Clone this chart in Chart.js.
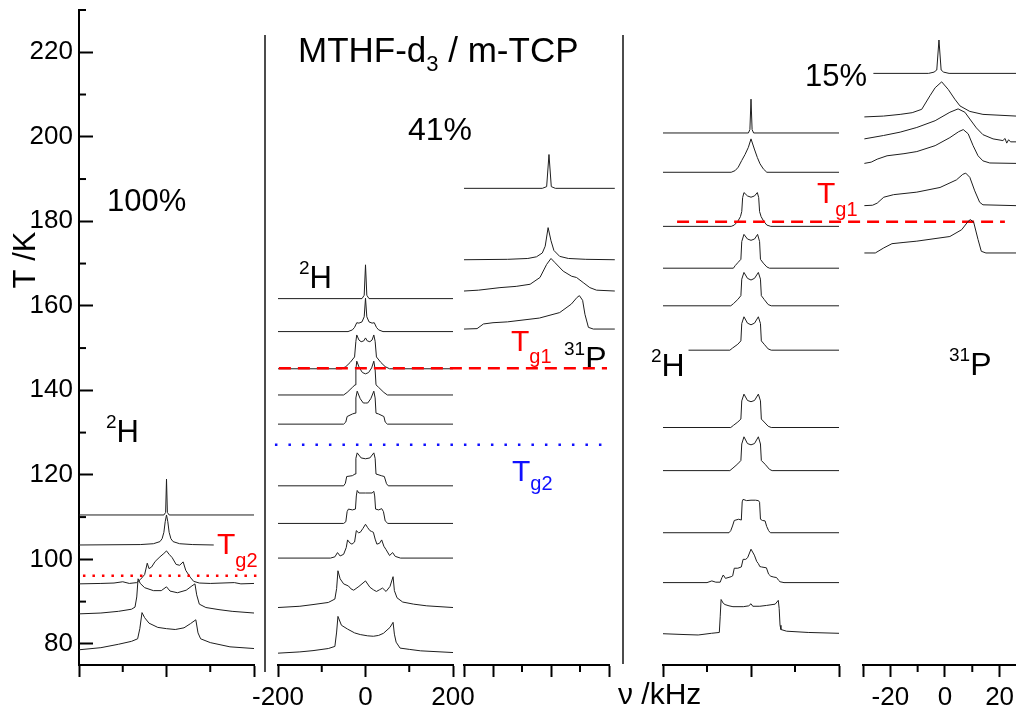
<!DOCTYPE html>
<html>
<head>
<meta charset="utf-8">
<script src="https://cdn.jsdelivr.net/npm/chart.js@4.4.1/dist/chart.umd.min.js"></script>
<style>
  html, body { margin: 0; padding: 0; background: #fff; }
  #wrap { position: relative; width: 1016px; height: 716px; overflow: hidden; }
  canvas { position: absolute; left: 0; top: 0; }
</style>
</head>
<body>
<div id="wrap">
  <canvas id="p1" width="1016" height="716"></canvas>
  <canvas id="p2" width="1016" height="716"></canvas>
  <canvas id="p3" width="1016" height="716"></canvas>
  <canvas id="p4" width="1016" height="716"></canvas>
  <canvas id="p5" width="1016" height="716"></canvas>
</div>
<script>
// temperature axis
const Y_MIN = 75, Y_MAX = 230;
const Y_TICKS = [80, 100, 120, 140, 160, 180, 200, 220];
const Y_MINOR = [90, 110, 130, 150, 170, 190, 210, 230];

// glass transitions (K)
const TG2_100 = 96.1;
const TG1_41 = 145.2;
const TG2_41 = 127.1;
const TG1_15 = 179.9;

// spectra: [frequency kHz, height above baseline in K]
// 100 % MTHF-d3, 2H
const P1_BASE = [110.5, 103.4, 94.2, 87.1, 78.6];
const P1_A = [[-200,0],[-6,0],[-2,0.6],[0,8.5],[2,0.6],[6,0],[200,0]];
const P1_B = [[-200,0],[-60,0.1],[-30,0.3],[-15,0.8],[-10,1.5],[-6,3.0],[-3,5.5],[0,7.1],[3,5.5],[6,3.0],[10,1.5],[15,0.8],[30,0.3],[60,0.1],[108,0]];
const P1_C = [[-200,0],[-150,0.1],[-120,0.2],[-100,0.5],[-85,0.1],[-68,0.3],[-60,1.0],[-50,2.2],[-44,4.9],[-40,3.6],[-34,4.0],[-26,5.3],[-15,6.4],[-6,7.2],[0,7.8],[6,7.0],[13,6.2],[22,4.6],[30,4.4],[38,5.2],[44,3.2],[54,1.6],[62,0.6],[75,0.2],[100,0.1],[155,0.3],[170,0],[200,0.1]];
const P1_D = [[-200,0],[-150,0.2],[-110,0.6],[-80,1.1],[-72,1.6],[-68,4],[-65,8.3],[-60,7.2],[-50,6.2],[-30,5.5],[-12,5.5],[0,6.4],[8,5.4],[25,5.0],[45,5.6],[58,6.6],[65,7.1],[69,4.5],[75,2.3],[90,1.5],[120,1.0],[150,0.6],[200,0.2]];
const P1_E = [[-200,0],[-150,0.5],[-110,1.3],[-80,2.0],[-66,2.6],[-61,5],[-56,8.8],[-50,7.6],[-40,6.3],[-20,5.3],[0,5.0],[20,4.8],[40,5.2],[55,6.2],[67,7.1],[72,4.0],[78,2.6],[100,1.7],[145,0.7],[200,0.3]];

// 41 %, 2H
const P2_BASE = [161.7, 153.9, 145.1, 138.9, 132.0, 117.4, 108.5, 100.3, 88.6, 77.8];
const P2_A = [[-200,0],[-8,0],[-3,0.8],[0,8.0],[3,0.8],[8,0],[200,0]];
const P2_B = [[-200,0],[-40,0],[-30,0.4],[-25,1.0],[-20,2.1],[-15,2.0],[-8,2.3],[-3,3.5],[0,7.9],[3,3.5],[8,2.3],[15,2.0],[20,2.1],[25,1.0],[30,0.4],[40,0],[200,0]];
const P2_C = [[-200,0],[-55,0],[-45,0.5],[-35,1.5],[-25,2.8],[-22,6.5],[-20,8.0],[-15,6.8],[-10,6.4],[-4,6.6],[0,7.3],[4,6.6],[10,6.4],[15,6.8],[19,8.0],[22,6.5],[25,2.8],[35,1.5],[45,0.5],[55,0],[200,0]];
const P2_D = [[-200,0],[-50,0],[-42,0.6],[-30,1.8],[-24,2.4],[-22,6],[-20,8.0],[-14,6.4],[-7,5.3],[0,5.0],[7,5.3],[14,6.4],[19,8.0],[22,6],[24,2.4],[30,1.8],[42,0.6],[50,0],[200,0]];
const P2_E = [[-200,0],[-50,0],[-45,0.5],[-42,1.8],[-30,2.4],[-24,2.6],[-22,6.2],[-19,7.8],[-12,6.0],[-5,5.0],[0,5.0],[5,5.0],[12,6.0],[19,7.8],[22,6.2],[24,2.6],[30,2.4],[42,1.8],[45,0.5],[50,0],[200,0]];
const P2_F = [[-200,0],[-50,0],[-46,0.6],[-43,2.2],[-30,2.4],[-24,2.8],[-22,6.5],[-19,7.8],[-10,6.6],[0,6.4],[10,6.6],[19,7.8],[22,6.5],[24,2.8],[36,2.4],[43,2.2],[48,0.5],[52,0],[200,0]];
const P2_G = [[-200,0],[-50,0],[-45,0.4],[-42,2.8],[-39,3.4],[-30,3.2],[-23,3.4],[-21,6.5],[-19,7.8],[-15,7.2],[0,7.2],[15,7.2],[19,7.6],[21,6.5],[23,3.4],[30,3.2],[37,3.5],[41,2.8],[45,0.6],[51,0],[200,0]];
const P2_H = [[-200,0],[-80,0],[-70,0.3],[-64,1.3],[-58,0.5],[-50,0.9],[-44,2.5],[-41,4.3],[-36,3.6],[-31,3.3],[-25,3.8],[-21,6.5],[-16,6.0],[-12,6.1],[-6,7.0],[0,8.0],[5,7.2],[10,6.5],[14,6.3],[18,6.1],[22,4.5],[26,3.3],[32,3.5],[37,4.3],[42,2.8],[47,2.0],[55,0.6],[62,1.3],[68,0.4],[80,0],[200,0]];
const P2_I = [[-200,0],[-150,0.3],[-120,0.7],[-85,1.2],[-70,2.0],[-66,4.5],[-63,8.7],[-58,6.8],[-50,5.6],[-39,5.1],[-33,4.4],[-27,4.1],[-15,5.0],[0,6.3],[10,4.8],[18,4.2],[25,3.8],[32,4.2],[39,4.6],[47,3.8],[56,5.0],[63,7.3],[66,4.0],[72,2.3],[85,1.3],[110,0.8],[140,0.4],[200,0]];
const P2_J = [[-200,0],[-150,0.3],[-120,0.6],[-85,1.1],[-70,1.6],[-66,5],[-63,8.7],[-55,6.6],[-41,5.7],[-25,4.8],[-12,4.4],[5,4.1],[18,4.0],[30,4.2],[41,4.7],[56,6.1],[63,7.3],[66,4.5],[70,2.6],[79,1.2],[100,0.9],[126,0.55],[200,0.15]];

// 41 %, 31P
const P3_BASE = [187.8, 170.9, 163.5, 154.5];
const P3_A = [[-30,0],[-3,0],[-1.5,0.4],[-0.7,8.0],[0.1,0.4],[1.5,0],[22,0]];
const P3_B = [[-30,0],[-15,0.1],[-8,0.3],[-5,0.7],[-3,1.6],[-2,3.2],[-1,7.6],[0,4.5],[1,2.2],[3,0.8],[6,0.3],[12,0.1],[22,0]];
const P3_C = [[-30,0],[-25,0.2],[-17.6,0.8],[-12,1.1],[-7.2,1.6],[-3.8,3.2],[-1.5,6.3],[0,7.7],[1.4,6.7],[4.2,4.7],[7.1,3.5],[8.8,3.2],[11.1,2.0],[13.4,0.8],[15.7,0.2],[22,0]];
const P3_D = [[-30,0],[-25.5,0.1],[-23.3,1.2],[-20,1.5],[-15,1.7],[-4,2.6],[3,3.9],[7,5.9],[9,7.5],[9.8,7.9],[10.9,6.8],[11.7,3.5],[12.9,0.4],[14.6,0],[22,0]];

// 15 %, 2H
const P4_BASE = [200.9, 191.6, 178.8, 168.9, 160.0, 149.5, 131.2, 121.0, 106.3, 94.5, 82.4];
const P4_A = [[-200,0],[-6,0],[-2.5,0.8],[0,8.0],[2.5,0.8],[6,0],[200,0]];
const P4_B = [[-200,0],[-45,0],[-36,0.4],[-29,1.2],[-21,2.8],[-13.6,4.2],[-6,5.9],[0,7.9],[7.6,5.5],[14.4,3.5],[20.5,2.0],[28,0.8],[36,0],[200,0]];
const P4_C = [[-200,0],[-45,0],[-38,0.3],[-30,1.2],[-24,2.3],[-21,3.5],[-19,6.8],[-16,8.0],[-8,7.2],[0,6.9],[8,7.2],[14.4,8.0],[17.5,6.8],[19.5,3.5],[23,2.3],[29,1.2],[36,0.3],[45,0],[200,0]];
const P4_D = [[-200,0],[-40,0],[-36,0.6],[-30,1.3],[-23,2.1],[-21,6.3],[-16,8.0],[-8,6.9],[0,6.6],[8,6.9],[15,8.0],[19.5,6.3],[21.5,2.1],[28,1.2],[36,0.3],[42,0],[200,0]];
const P4_E = [[-200,0],[-46,0],[-40,0.5],[-30,1.5],[-23,2.4],[-21,6.3],[-16,7.9],[-8,6.5],[0,6.1],[8,6.5],[16.7,7.9],[21.5,6.3],[23.5,2.4],[30,1.5],[39,0.3],[46,0],[200,0]];
const P4_F = [[-142,0],[-48,0],[-42,0.5],[-30,1.4],[-23,2.2],[-21,6.3],[-16,7.9],[-8,6.4],[0,6.0],[8,6.4],[16.7,7.9],[21.5,6.3],[23.5,2.2],[30,1.4],[39,0.3],[46,0],[200,0]];
const P4_G = [[-200,0],[-46,0],[-40,0.5],[-30,1.3],[-23,2.0],[-21,6.3],[-16,7.9],[-8,6.4],[0,6.1],[8,6.4],[16.7,7.9],[21.5,6.3],[23.5,2.0],[30,1.3],[39,0.3],[46,0],[200,0]];
const P4_H = [[-200,0],[-48,0],[-41,0.6],[-30,1.6],[-23,2.4],[-21,6.3],[-16,8.0],[-8,6.4],[0,6.1],[8,6.4],[16.7,8.0],[21.5,6.3],[23.5,2.4],[32,1.5],[42,0.3],[48,0],[200,0]];
const P4_I = [[-200,0],[-50,0],[-46,0.5],[-42,1.6],[-38,2.9],[-28,3.2],[-22,3.0],[-20,7.3],[-18,7.9],[-10,7.6],[0,7.7],[10,7.7],[17,7.6],[19.5,7.2],[21.5,3.2],[26,2.9],[32,2.8],[35.6,1.5],[40,0.5],[44,0],[200,0]];
const P4_J = [[-200,0],[-100,0],[-89,0.4],[-80,0.1],[-70,0.1],[-66,1.2],[-63,1.8],[-58,1.0],[-45,1.4],[-41.6,1.6],[-38,3.4],[-30,3.4],[-22,3.7],[-18,5.5],[-12,5.5],[-7.6,5.9],[0,7.9],[7.6,6.5],[13,5.0],[16.7,4.5],[20,3.8],[24,3.7],[35,3.5],[40,2.0],[45,1.5],[52,1.3],[58,1.2],[63,0.5],[66,0.2],[75,0],[200,0]];
const P4_K = [[-200,0],[-150,-0.2],[-120,-0.3],[-90,0.1],[-72,0.3],[-70,4],[-68,8.1],[-63,7.2],[-59,6.9],[-50,6.6],[-41,6.4],[-17.5,6.4],[-5,6.6],[0,7.1],[4,6.5],[20,6.5],[35.6,6.7],[55,7.0],[62,7.9],[64,6],[66,2],[68,1.0],[81,0.6],[130,0.3],[200,0.1]];

// 15 %, 31P
const P5_BASE = [215.0, 204.7, 198.7, 193.7, 183.7, 172.5];
const P5_A = [[-26.2,0],[-6,0],[-4,0.3],[-3,0.8],[-2.2,7.9],[-1.4,0.8],[-0.5,0.3],[1.5,0],[26,0]];
const P5_B = [[-29.5,0],[-22.5,0.2],[-16.4,0.6],[-12,1.0],[-8.5,1.8],[-5.5,5.0],[-3.6,6.9],[-1.2,8.3],[1.2,6.5],[3.6,4.2],[5.5,2.6],[9.1,1.3],[13.9,0.6],[26,0.2]];
const P5_C = [[-29.5,0.8],[-22.5,1.6],[-16.4,2.4],[-10.3,3.5],[-3.6,5.1],[1.8,7.1],[4.8,7.9],[7.3,7.1],[9.1,5.5],[11.5,3.4],[13.9,1.8],[17.6,0.8],[21.2,0.4],[22,0.9],[22.6,-0.2],[23.3,0.6],[24,0.1],[26,0.1]];
const P5_D = [[-29.5,0],[-27,0.3],[-24.8,1.0],[-21.2,1.8],[-15,2.3],[-10.3,2.8],[-3.6,4.2],[1.8,6.1],[5,7.5],[6.7,8.0],[8.5,7.0],[10.3,4.2],[12.1,1.8],[13.9,0.6],[16.4,0.1],[26,0]];
const P5_E = [[-29.5,0],[-26.5,0.1],[-24.8,0.6],[-22.4,2.0],[-18.8,2.6],[-10.3,3.2],[-1.8,4.3],[4.2,6.1],[6.5,7.4],[7.6,7.7],[9.1,6.7],[10.9,3.5],[12.7,0.8],[13.9,0.2],[26,0]];
const P5_F = [[-29.5,0],[-25.5,0],[-22.4,1.2],[-19.4,2.2],[-15,2.5],[-10.3,2.8],[1.8,3.9],[6.1,5.5],[8.5,7.5],[9.3,7.9],[10.5,7.3],[12.1,3.2],[13.3,0.4],[15,0],[26,0]];

// frequency axes
const WIDE_MAJOR = [-200, 0, 200];
const WIDE_MINOR = [-100, 100];
const NARROW_MAJOR = [-30, -20, 0, 20];
const NARROW_MINOR = [-10, 10];

Chart.defaults.font.family = '"Liberation Sans", Arial, sans-serif';
Chart.defaults.color = '#000';

const INK = '#1e1e1e';
const RED = '#ff0000';
const BLUE = '#1010ff';

function spectra(bases, shapes) {
  return shapes.map((sh, i) => ({
    data: sh.map(([f, h]) => ({ x: f, y: bases[i] + h })),
    borderColor: INK, borderWidth: 1, clip: false
  }));
}

function tgLine(T, from, to, color, dash) {
  return {
    data: [{ x: from, y: T }, { x: to, y: T }],
    borderColor: color, borderWidth: 2.5, borderDash: dash, clip: false
  };
}

function minorTicks(xMinor, yMinor) {
  return {
    id: 'minorTicks',
    afterDraw(chart) {
      const ctx = chart.ctx, xs = chart.scales.x, ys = chart.scales.y;
      ctx.save();
      ctx.strokeStyle = '#000';
      ctx.lineWidth = 2;
      xMinor.forEach(v => {
        const px = xs.getPixelForValue(v);
        ctx.beginPath(); ctx.moveTo(px, xs.top); ctx.lineTo(px, xs.top + 7); ctx.stroke();
      });
      yMinor.forEach(v => {
        const py = ys.getPixelForValue(v);
        ctx.beginPath(); ctx.moveTo(ys.right, py); ctx.lineTo(ys.right + 7, py); ctx.stroke();
      });
      ctx.restore();
    }
  };
}

function panel(id, cfg) {
  const yScale = cfg.showY ? {
    min: Y_MIN, max: Y_MAX,
    afterFit: s => { s.width = 79; s.paddingTop = 0; s.paddingBottom = 0; },
    afterBuildTicks: s => { s.ticks = Y_TICKS.map(v => ({ value: v })); },
    border: { display: true, color: '#000', width: 2 },
    grid: { drawOnChartArea: false, drawTicks: true, tickLength: -14, tickWidth: 2, tickColor: '#000' },
    ticks: { font: { size: 26 }, padding: 20, color: '#000' }
  } : { display: false, min: Y_MIN, max: Y_MAX };

  return new Chart(document.getElementById(id), {
    type: 'line',
    data: { datasets: cfg.datasets },
    options: {
      responsive: false,
      animation: false,
      devicePixelRatio: 1,
      layout: { padding: cfg.padding },
      plugins: { legend: { display: false }, tooltip: { enabled: false } },
      elements: { point: { radius: 0 }, line: { tension: 0 } },
      scales: {
        x: {
          type: 'linear', min: cfg.xMin, max: cfg.xMax,
          afterFit: s => { s.height = 50; s.paddingLeft = 0; s.paddingRight = 0; },
          afterBuildTicks: s => { s.ticks = cfg.xMajor.map(v => ({ value: v })); },
          border: { display: true, color: '#000', width: 2 },
          grid: { drawOnChartArea: false, drawTicks: true, tickLength: 12, tickWidth: 2, tickColor: '#000' },
          ticks: {
            font: { size: 26 }, padding: 5, color: '#000', maxRotation: 0, autoSkip: false,
            callback: v => cfg.xLabels.includes(v) ? String(v) : ''
          }
        },
        y: yScale
      }
    },
    plugins: [minorTicks(cfg.xMinor, cfg.showY ? Y_MINOR : [])].concat(cfg.extra || [])
  });
}

// free text, superscripts and subscripts, panel dividers
const TEXTS = [
  { x: 107, y: 211, c: '#000', parts: [['100%', 31, 0]] },
  { x: 408, y: 140, c: '#000', parts: [['41%', 32, 0]] },
  { x: 805, y: 86, c: '#000', parts: [['15%', 31, 0]] },
  { x: 298, y: 62, c: '#000', parts: [['MTHF-d', 35, 0], ['3', 22, 9], [' / m-TCP', 35, 0]] },
  { x: 106, y: 442, c: '#000', parts: [['2', 19, -14], ['H', 31, 0]] },
  { x: 299, y: 288, c: '#000', parts: [['2', 19, -14], ['H', 31, 0]] },
  { x: 651, y: 376, c: '#000', parts: [['2', 19, -14], ['H', 32, 0]] },
  { x: 564, y: 369, c: '#000', parts: [['31', 19, -14], ['P', 32, 0]] },
  { x: 949, y: 375, c: '#000', parts: [['31', 19, -14], ['P', 32, 0]] },
  { x: 217, y: 554, c: RED, parts: [['T', 30, 0], ['g2', 20, 13]] },
  { x: 511, y: 351, c: RED, parts: [['T', 30, 0], ['g1', 20, 12]] },
  { x: 512, y: 481, c: BLUE, parts: [['T', 30, 0], ['g2', 20, 9]] },
  { x: 817, y: 203, c: RED, parts: [['T', 30, 0], ['g1', 20, 13]] },
  { x: 618, y: 704, c: '#000', parts: [['\u03bd /kHz', 30, 0]] }
];

const decor = {
  id: 'decor',
  afterDraw(chart) {
    const ctx = chart.ctx;
    ctx.save();
    ctx.textBaseline = 'alphabetic';
    ctx.textAlign = 'left';
    TEXTS.forEach(t => {
      let x = t.x;
      ctx.fillStyle = t.c;
      t.parts.forEach(([s, size, dy]) => {
        ctx.font = size + 'px "Liberation Sans", Arial, sans-serif';
        ctx.fillText(s, x, t.y + dy);
        x += ctx.measureText(s).width;
      });
    });
    // axis title
    ctx.fillStyle = '#000';
    ctx.font = '31px "Liberation Sans", Arial, sans-serif';
    ctx.translate(35, 260);
    ctx.rotate(-Math.PI / 2);
    ctx.textAlign = 'center';
    ctx.fillText('T /K', 0, 0);
    ctx.setTransform(1, 0, 0, 1, 0, 0);
    // panel dividers
    ctx.strokeStyle = '#111';
    ctx.lineWidth = 1.5;
    ctx.beginPath(); ctx.moveTo(265, 35); ctx.lineTo(265, 672); ctx.stroke();
    ctx.beginPath(); ctx.moveTo(623, 35); ctx.lineTo(623, 664); ctx.stroke();
    ctx.restore();
  }
};

const RED_DOTS = [2.5, 7];
const BLUE_DOTS = [2.5, 11];
const DASH = [12, 7];

panel('p1', {
  showY: true,
  padding: { left: 0, top: 10, right: 762, bottom: 1 },
  xMin: -200, xMax: 200, xMajor: WIDE_MAJOR, xMinor: WIDE_MINOR, xLabels: [],
  datasets: [tgLine(TG2_100, -191, 214, RED, RED_DOTS)]
    .concat(spectra(P1_BASE, [P1_A, P1_B, P1_C, P1_D, P1_E])),
  extra: [decor]
});

panel('p2', {
  padding: { left: 278, top: 10, right: 563, bottom: 1 },
  xMin: -200, xMax: 200, xMajor: WIDE_MAJOR, xMinor: WIDE_MINOR, xLabels: [-200, 0, 200],
  datasets: [tgLine(TG1_41, -198, 552, RED, DASH), tgLine(TG2_41, -207, 563, BLUE, BLUE_DOTS)]
    .concat(spectra(P2_BASE, [P2_A, P2_B, P2_C, P2_D, P2_E, P2_F, P2_G, P2_H, P2_I, P2_J]))
});

panel('p3', {
  padding: { left: 464, top: 10, right: 407, bottom: 1 },
  xMin: -30, xMax: 20, xMajor: NARROW_MAJOR, xMinor: NARROW_MINOR, xLabels: [],
  datasets: spectra(P3_BASE, [P3_A, P3_B, P3_C, P3_D])
});

panel('p4', {
  padding: { left: 663, top: 10, right: 177, bottom: 1 },
  xMin: -200, xMax: 200, xMajor: WIDE_MAJOR, xMinor: WIDE_MINOR, xLabels: [],
  datasets: [tgLine(TG1_15, -168, 577, RED, DASH)]
    .concat(spectra(P4_BASE, [P4_A, P4_B, P4_C, P4_D, P4_E, P4_F, P4_G, P4_H, P4_I, P4_J, P4_K]))
});

panel('p5', {
  padding: { left: 863, top: 10, right: 0, bottom: 1 },
  xMin: -30, xMax: 26, xMajor: NARROW_MAJOR, xMinor: NARROW_MINOR, xLabels: [-20, 0, 20],
  datasets: spectra(P5_BASE, [P5_A, P5_B, P5_C, P5_D, P5_E, P5_F])
});
</script>
</body>
</html>
